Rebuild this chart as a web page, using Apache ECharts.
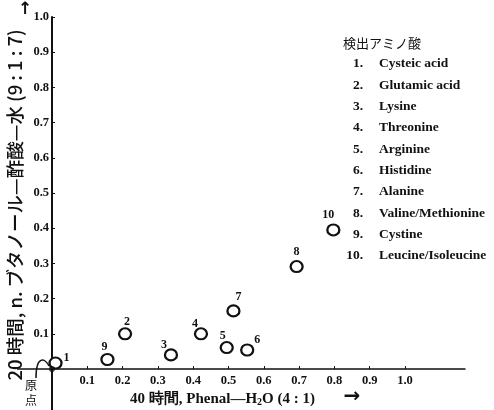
<!DOCTYPE html>
<html>
<head>
<meta charset="utf-8">
<script src="https://cdn.jsdelivr.net/npm/echarts@6/dist/echarts.min.js"></script>
<style>
  html, body { margin: 0; padding: 0; background: #fff; }
  #chart { width: 494px; height: 410px; }
</style>
</head>
<body>
<div id="chart"></div>
<script>
// spot numbers and Rf values (x: phenol-water 40h, y: butanol-acetic acid-water 20h)
const spotIds = ['1', '2', '3', '4', '5', '6', '7', '8', '9', '10'];
const rfPhenol = [0.01, 0.207, 0.337, 0.422, 0.495, 0.553, 0.514, 0.693, 0.157, 0.797];
const rfButanol = [0.017, 0.10, 0.04, 0.10, 0.061, 0.054, 0.165, 0.291, 0.027, 0.395];
const aminoNames = [
  'Cysteic acid', 'Glutamic acid', 'Lysine', 'Threonine', 'Arginine',
  'Histidine', 'Alanine', 'Valine/Methionine', 'Cystine', 'Leucine/Isoleucine'
];
const origin = [[0, 0]];
const xTicks = [0.1, 0.2, 0.3, 0.4, 0.5, 0.6, 0.7, 0.8, 0.9, 1.0];
const yTicks = [0.1, 0.2, 0.3, 0.4, 0.5, 0.6, 0.7, 0.8, 0.9, 1.0];

// label offset of each spot number from its circle (px)
const labelOffsets = [[11, -5], [2, -12], [-7, -10], [-6, -10], [-4, -12], [10, -10], [5, -14], [0, -15], [-3, -13], [-5, -15]];

const ink = '#111';
const serif = '"Liberation Serif", "DejaVu Serif", serif';
const cjk = '"Noto Sans CJK JP", sans-serif';

const chart = echarts.init(document.getElementById('chart'));

const legendItems = [];
aminoNames.forEach((name, i) => {
  const y = 64 + i * 21.3;
  legendItems.push({
    type: 'text', x: 363, y: y,
    style: { text: spotIds[i] + '.', font: 'bold 13.5px ' + serif, fill: ink, align: 'right', verticalAlign: 'middle' }
  });
  legendItems.push({
    type: 'text', x: 379, y: y,
    style: { text: name, font: 'bold 13.5px ' + serif, fill: ink, align: 'left', verticalAlign: 'middle' }
  });
});

chart.setOption({
  animation: false,
  grid: { left: 52, right: 29, top: 17, bottom: 41, outerBoundsMode: 'none', containLabel: false },
  xAxis: {
    type: 'value',
    min: 0,
    max: 1.17,
    splitLine: { show: false },
    axisLine: { lineStyle: { color: ink, width: 1.5 } },
    axisTick: { inside: true, length: 3, customValues: xTicks, lineStyle: { color: ink } },
    axisLabel: {
      customValues: xTicks,
      margin: 5,
      color: ink,
      fontFamily: serif,
      fontWeight: 'bold',
      fontSize: 12.5,
      formatter: v => v.toFixed(1)
    }
  },
  yAxis: {
    type: 'value',
    min: 0,
    max: 1.0,
    splitLine: { show: false },
    axisLine: { lineStyle: { color: ink, width: 2 } },
    axisTick: { inside: true, length: 3, customValues: yTicks, lineStyle: { color: ink } },
    axisLabel: {
      customValues: yTicks,
      margin: 3,
      color: ink,
      fontFamily: serif,
      fontWeight: 'bold',
      fontSize: 12.5,
      formatter: v => v.toFixed(1)
    }
  },
  series: [
    {
      type: 'scatter',
      symbol: 'circle',
      symbolSize: [12, 11],
      clip: false,
      itemStyle: { color: '#fff', borderColor: ink, borderWidth: 2.2, opacity: 1 },
      label: {
        show: true,
        position: 'inside',
        formatter: p => p.data.id,
        color: ink,
        fontFamily: serif,
        fontWeight: 'bold',
        fontSize: 12
      },
      data: spotIds.map((id, i) => ({
        id: id,
        value: [rfPhenol[i], rfButanol[i]],
        label: { offset: labelOffsets[i] }
      })),
      z: 3
    },
    {
      type: 'scatter',
      symbol: 'circle',
      symbolSize: 6,
      clip: false,
      itemStyle: { color: ink },
      data: origin,
      z: 4
    }
  ]
});

// axis lines continue past the origin (to the left and downwards)
const o = chart.convertToPixel({ gridIndex: 0 }, [0, 0]);

chart.setOption({
  graphic: [
    { type: 'line', shape: { x1: 17, y1: o[1], x2: o[0], y2: o[1] }, style: { stroke: ink, lineWidth: 1.5 } },
    { type: 'line', shape: { x1: o[0], y1: o[1], x2: o[0], y2: 410 }, style: { stroke: ink, lineWidth: 2 } },
    // y axis title, reading bottom to top
    {
      type: 'text', x: 15, y: 205, rotation: Math.PI / 2,
      style: {
        text: '20 時間, n. ブタノール—酢酸—水 (9 : 1 : 7)',
        font: '500 18.5px ' + cjk, fill: ink, align: 'center', verticalAlign: 'middle'
      }
    },
    // arrow next to 1.0
    {
      type: 'text', x: 25, y: 10,
      style: { text: '↑', font: 'bold 17px "DejaVu Sans", sans-serif', fill: ink, align: 'center', verticalAlign: 'middle' }
    },
    // x axis title
    {
      type: 'text', x: 130, y: 399,
      style: {
        text: '40 時間, Phenal—H{sub|2}O (4 : 1)',
        font: 'bold 15px ' + serif, fill: ink, align: 'left', verticalAlign: 'middle',
        rich: { sub: { fontSize: 10, fontWeight: 'bold', fontFamily: serif, fill: ink, padding: [6, 0, 0, 0] } }
      }
    },
    {
      type: 'text', x: 352, y: 397,
      style: { text: '→', font: 'bold 20px "DejaVu Sans", sans-serif', fill: ink, align: 'center', verticalAlign: 'middle' }
    },
    // origin mark
    {
      type: 'text', x: 31, y: 393,
      style: { text: '原\n点', font: '12px ' + cjk, lineHeight: 15, fill: ink, align: 'center', verticalAlign: 'middle' }
    },
    {
      type: 'bezierCurve',
      shape: { x1: 36, y1: 378, x2: 49, y2: 366, cpx1: 36, cpy1: 355, cpx2: 45, cpy2: 358 },
      style: { stroke: ink, lineWidth: 1.5, fill: null }
    },
    // legend block
    {
      type: 'text', x: 343, y: 43,
      style: { text: '検出アミノ酸', font: '13px ' + cjk, fill: ink, align: 'left', verticalAlign: 'middle' }
    }
  ].concat(legendItems)
});
</script>
</body>
</html>
